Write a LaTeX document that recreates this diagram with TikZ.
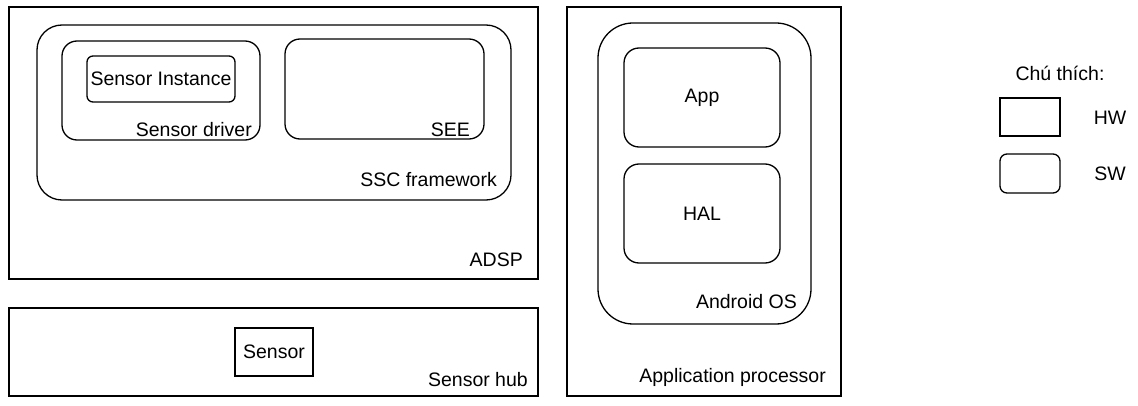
\documentclass[tikz,border=0pt]{standalone}
\usepackage{fontspec}
\setmainfont{Liberation Sans}
\usepackage{tikz}
\usetikzlibrary{positioning}

\begin{document}
\begin{tikzpicture}[
        x=1pt, y=-1pt,
        every node/.style={font=\fontsize{19.5}{23}\selectfont, inner sep=0pt},
        hwbox/.style={draw, line width=1.3pt},
        swbox/.style={draw, line width=1.3pt, rounded corners=#1},
        swbox/.default=15pt,
        lbl/.style={anchor=base east}
    ]
    \useasboundingbox (0,0) rectangle (1138,406);

    % ADSP
    \node[hwbox, minimum width=529, minimum height=272] (adsp) at (273.5,143) {};
    \node[lbl] (adsplbl) at (523,266) {ADSP};
    \node[swbox=25pt, minimum width=474, minimum height=175] (ssc) at (274,112.5) {};
    \node[lbl] (ssclbl) at (497,187) {SSC framework};
    \node[swbox, minimum width=198, minimum height=99] (driver) at (161,90.5) {};
    \node[lbl] (driverlbl) at (252,137) {Sensor driver};
    \node[swbox=6pt, minimum width=148, minimum height=46] (instance) at (161,79) {Sensor Instance};
    \node[swbox, minimum width=199, minimum height=100] (see) at (384.5,89) {};
    \node[lbl] (seelbl) at (470,137) {SEE};

    % Sensor hub
    \node[hwbox, minimum width=529, minimum height=88] (hub) at (273.5,352) {};
    \node[lbl] (hublbl) at (528,386) {Sensor hub};
    \node[hwbox, minimum width=78, minimum height=48] (sensor) at (274,352) {Sensor};

    % Application processor
    \node[hwbox, minimum width=274, minimum height=389] (ap) at (704,201.5) {};
    \node[lbl] (aplbl) at (826,382) {Application processor};
    \node[swbox=35pt, minimum width=213, minimum height=301] (android) at (704.5,173.5) {};
    \node[lbl] (androidlbl) at (797,308) {Android OS};
    \node[swbox, minimum width=156, minimum height=99] (app) at (702,97.5) {App};
    \node[swbox, minimum width=156, minimum height=99] (hal) at (702,213.5) {HAL};

    % Legend
    \node (legend) at (1060,73) {Chú thích:};
    \node[hwbox, minimum width=60, minimum height=38] (hwkey) at (1030,117) {};
    \node (hwtext) at (1110,118) {HW};
    \node[swbox=7pt, minimum width=60, minimum height=39] (swkey) at (1030,173.5) {};
    \node (swtext) at (1110,174) {SW};
\end{tikzpicture}
\end{document}
